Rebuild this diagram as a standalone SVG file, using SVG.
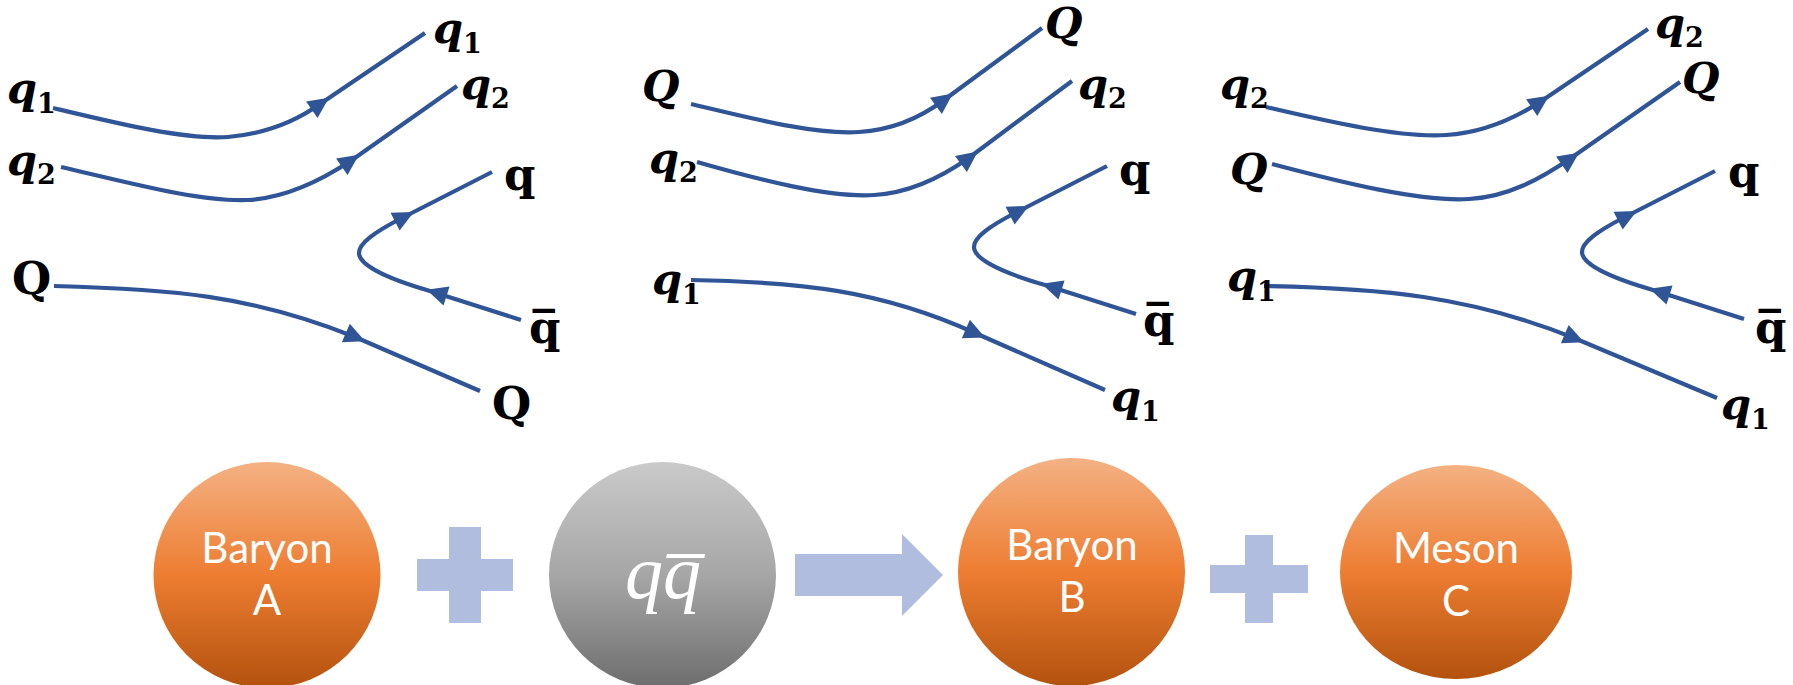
<svg xmlns="http://www.w3.org/2000/svg" xmlns:xlink="http://www.w3.org/1999/xlink" width="1793" height="685" viewBox="0 0 1793 685">
<style>
.ln{fill:none;stroke:#2F5597;stroke-width:4.2}
.ah{fill:#2F5597}
.lbi{font-family:"DejaVu Serif",serif;font-weight:bold;font-style:italic;font-size:43px;fill:#000}
.sub{font-style:normal;font-size:27px}
.lbu{font-family:"DejaVu Serif",serif;font-weight:bold;font-size:45px;fill:#000}
.nt{font-family:Lato,"Liberation Sans",sans-serif;font-size:42px;fill:#fff;text-anchor:middle}
.qq{font-family:"Liberation Serif","DejaVu Serif",serif;font-style:italic;font-size:76px;fill:#fff;text-anchor:middle}
.sym{fill:#B0BDDF}
</style>
<defs>
<linearGradient id="gOr" x1="0" y1="0" x2="0" y2="1">
<stop offset="0" stop-color="#F4B183"/>
<stop offset="0.5" stop-color="#ED7D31"/>
<stop offset="1" stop-color="#B3520E"/>
</linearGradient>
<linearGradient id="gGr" x1="0" y1="0" x2="0" y2="1">
<stop offset="0" stop-color="#CACACA"/>
<stop offset="0.5" stop-color="#A6A6A6"/>
<stop offset="1" stop-color="#6E6E6E"/>
</linearGradient>
<path id="ah" d="M11,0 L-10,-10 L-10,10 Z"/>
<g id="pair">
<path class="ln" d="M492,172 L400,219 C375,232 359,243 359,253 C359,263 378,276 430,291 L521,320"/>
<use xlink:href="#ah" class="ah" transform="translate(404,217) rotate(-27)"/>
<use xlink:href="#ah" class="ah" transform="translate(437,293) rotate(197.7)"/>
</g>
</defs>
<rect width="1793" height="685" fill="#fff"/>

<g id="connectors">
<path class="ln" d="M53,108 C120,124 185,140 228,137 C262,134 292,124 320,104 L425,33"/>
<use xlink:href="#ah" class="ah" transform="translate(320,104) rotate(-35)"/>
<path class="ln" d="M61,167 C130,183 200,202 248,200 C285,198 322,180 352,160 L457,86"/>
<use xlink:href="#ah" class="ah" transform="translate(350,161) rotate(-35)"/>
<path class="ln" d="M54,286 C170,289 250,295 355,337 L480,391"/>
<use xlink:href="#ah" class="ah" transform="translate(355,337) rotate(23.4)"/>
<use xlink:href="#pair"/>
<path class="ln" d="M691,104 C750,118 815,135 859,132 C892,130 920,118 944,100 L1042,28"/>
<use xlink:href="#ah" class="ah" transform="translate(944,100) rotate(-36.3)"/>
<path class="ln" d="M697,162 C760,180 830,198 874,195 C910,193 942,177 970,157 L1072,81"/>
<use xlink:href="#ah" class="ah" transform="translate(969,158) rotate(-36.7)"/>
<path class="ln" d="M691,280 C800,282 880,290 975,333 L1105,390"/>
<use xlink:href="#ah" class="ah" transform="translate(975,333) rotate(23.7)"/>
<use xlink:href="#pair" transform="translate(615,-6)"/>
<path class="ln" d="M1266,107 C1330,122 1400,138 1446,135 C1480,133 1512,120 1540,102 L1648,29"/>
<use xlink:href="#ah" class="ah" transform="translate(1540,102) rotate(-34)"/>
<path class="ln" d="M1272,164 C1340,182 1420,202 1469,199 C1508,197 1542,178 1571,158 L1680,82"/>
<use xlink:href="#ah" class="ah" transform="translate(1570,159) rotate(-34.9)"/>
<path class="ln" d="M1264,286 C1380,288 1470,296 1574,338 L1717,398"/>
<use xlink:href="#ah" class="ah" transform="translate(1574,338) rotate(22.8)"/>
<use xlink:href="#pair" transform="translate(1223,-1)"/>
</g>

<g id="p1-q1-in"><text class="lbi" x="7" y="103">q<tspan class="sub" dy="10">1</tspan></text></g>
<g id="p1-q2-in"><text class="lbi" x="7" y="175">q<tspan class="sub" dy="9">2</tspan></text></g>
<g id="p1-Q-in"><text class="lbu" x="12" y="294">Q</text></g>
<g id="p1-q1-out"><text class="lbi" x="433" y="43">q<tspan class="sub" dy="10">1</tspan></text></g>
<g id="p1-q2-out"><text class="lbi" x="461" y="99">q<tspan class="sub" dy="9">2</tspan></text></g>
<g id="p1-q"><text class="lbu" x="504" y="190">q</text></g>
<g id="p1-qbar"><text class="lbu" x="529" y="343">q&#x305;</text></g>
<g id="p1-Q-out"><text class="lbu" x="492" y="419">Q</text></g>

<g id="p2-Q-in"><text class="lbi" x="642" y="101">Q</text></g>
<g id="p2-q2-in"><text class="lbi" x="649" y="173">q<tspan class="sub" dy="9">2</tspan></text></g>
<g id="p2-q1-in"><text class="lbi" x="652" y="294">q<tspan class="sub" dy="10">1</tspan></text></g>
<g id="p2-Q-out"><text class="lbi" x="1045" y="38">Q</text></g>
<g id="p2-q2-out"><text class="lbi" x="1078" y="99">q<tspan class="sub" dy="9">2</tspan></text></g>
<g id="p2-q"><text class="lbu" x="1119" y="185">q</text></g>
<g id="p2-qbar"><text class="lbu" x="1143" y="336">q&#x305;</text></g>
<g id="p2-q1-out"><text class="lbi" x="1111" y="411">q<tspan class="sub" dy="10">1</tspan></text></g>

<g id="p3-q2-in"><text class="lbi" x="1220" y="99">q<tspan class="sub" dy="9">2</tspan></text></g>
<g id="p3-Q-in"><text class="lbi" x="1230" y="184">Q</text></g>
<g id="p3-q1-in"><text class="lbi" x="1227" y="291">q<tspan class="sub" dy="10">1</tspan></text></g>
<g id="p3-q2-out"><text class="lbi" x="1655" y="38">q<tspan class="sub" dy="9">2</tspan></text></g>
<g id="p3-Q-out"><text class="lbi" x="1682" y="93">Q</text></g>
<g id="p3-q"><text class="lbu" x="1728" y="187">q</text></g>
<g id="p3-qbar"><text class="lbu" x="1755" y="343">q&#x305;</text></g>
<g id="p3-q1-out"><text class="lbi" x="1721" y="419">q<tspan class="sub" dy="10">1</tspan></text></g>

<g id="baryonA">
<ellipse cx="267" cy="575" rx="113.5" ry="113" fill="url(#gOr)"/>
<text class="nt" x="267" y="563">Baryon</text>
<text class="nt" x="267" y="615">A</text>
</g>
<g id="plus1"><path class="sym" d="M449,527 H481 V559 H513 V591 H481 V623 H449 V591 H417 V559 H449 Z"/></g>
<g id="qqbar">
<ellipse cx="662.5" cy="575" rx="113.5" ry="113" fill="url(#gGr)"/>
<text class="qq" x="663" y="598">qq&#x305;</text>
</g>
<g id="arrow"><path class="sym" d="M795,554 H902 V534 L943,575 L902,616 V596 H795 Z"/></g>
<g id="baryonB">
<ellipse cx="1071.5" cy="572" rx="113.5" ry="114" fill="url(#gOr)"/>
<text class="nt" x="1072" y="560">Baryon</text>
<text class="nt" x="1072" y="612">B</text>
</g>
<g id="plus2"><path class="sym" d="M1245,535 H1273 V565 H1308 V593 H1273 V623 H1245 V593 H1210 V565 H1245 Z"/></g>
<g id="mesonC">
<ellipse cx="1456" cy="572" rx="116" ry="107" fill="url(#gOr)"/>
<text class="nt" x="1456" y="563">Meson</text>
<text class="nt" x="1456" y="616">C</text>
</g>
</svg>
